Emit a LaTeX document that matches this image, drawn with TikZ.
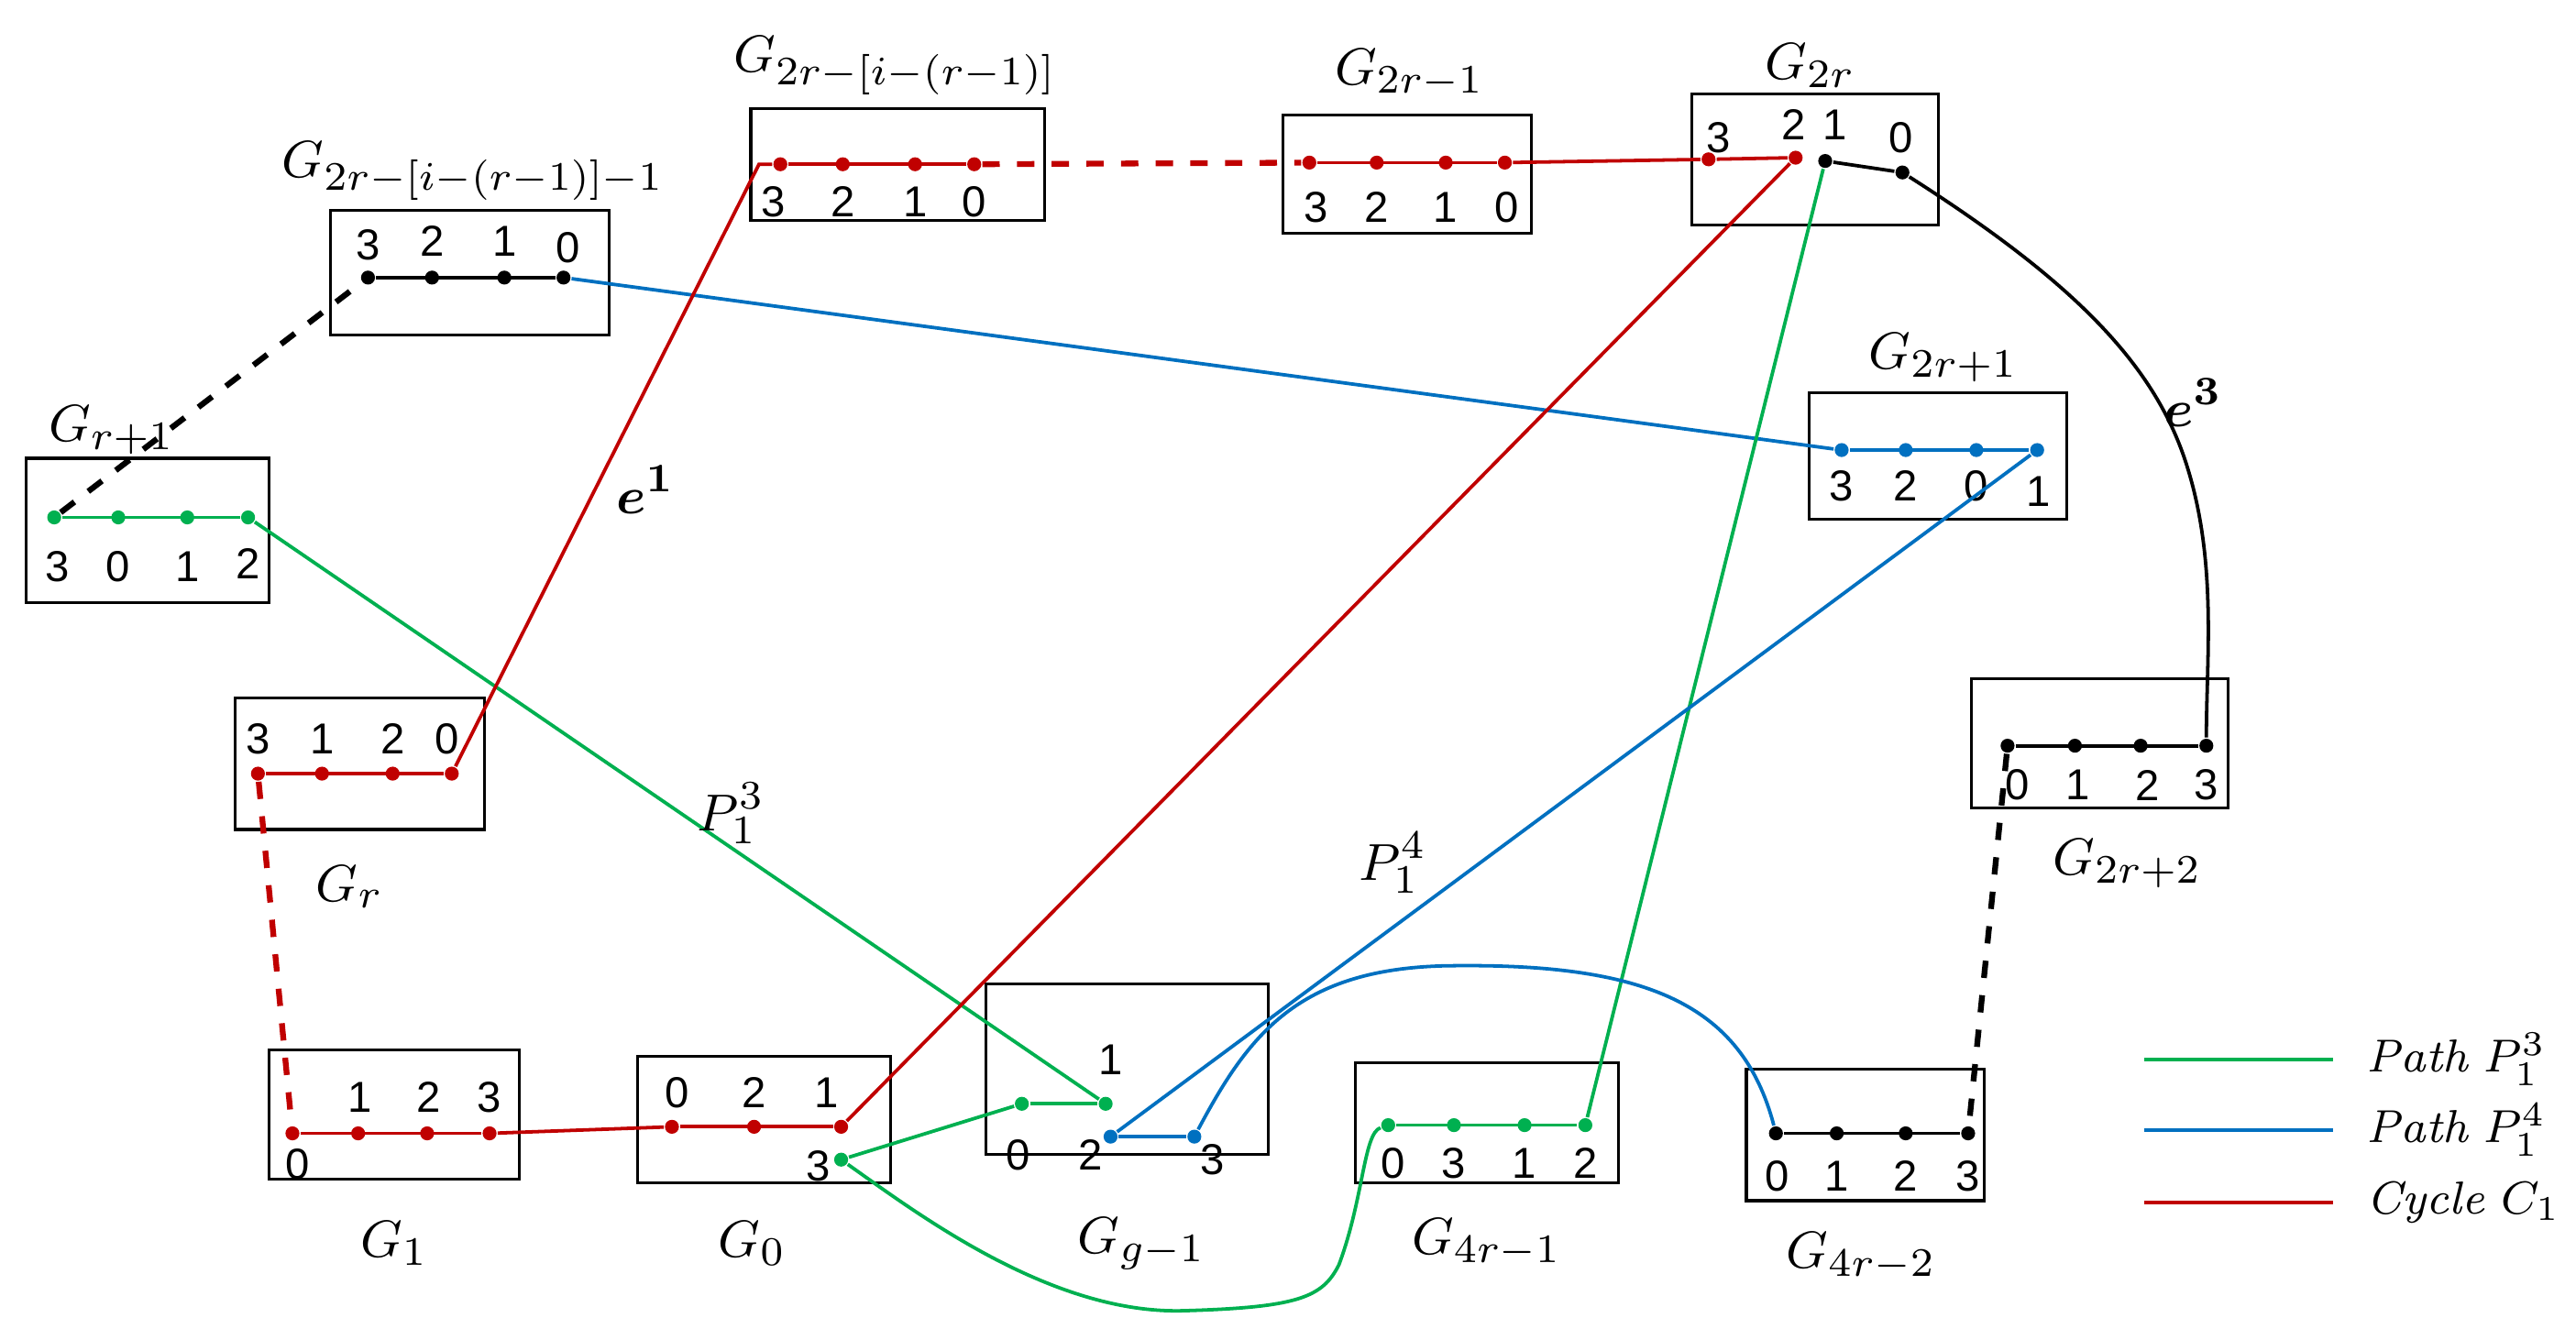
\documentclass[tikz,border=0pt]{standalone}
\usepackage{amsmath}
\usepackage{fontspec}
\setsansfont{Liberation Sans}
\begin{document}
\begin{tikzpicture}[x=0.01cm,y=-0.01cm,
 gr/.style={draw,line width=0.5pt,fill=none},
 dg/.style={circle,fill=#1,inner sep=0pt,minimum size=0.085cm},
 num/.style={font=\sffamily\fontsize{7.5}{8}\selectfont},
 ttl/.style={font=\fontsize{9.5}{11}\selectfont},
 ln/.style={line width=0.6pt}]
\definecolor{cg}{RGB}{0,176,80}\definecolor{cb}{RGB}{0,112,192}\definecolor{cr}{RGB}{192,0,0}
\useasboundingbox (0,0) rectangle (1568,809);
% boxes
\draw[gr] (201,128) rectangle (371,204);
\draw[gr] (457,66) rectangle (636,134);
\draw[gr] (781,70) rectangle (932,142);
\draw[gr] (1030,57) rectangle (1180,137);
\draw[gr] (1101,239) rectangle (1258,316);
\draw[gr] (16,279) rectangle (164,367);
\draw[gr] (143,425) rectangle (295,505);
\draw[gr] (1200,413) rectangle (1356,492);
\draw[gr] (164,639) rectangle (316,718);
\draw[gr] (388,643) rectangle (542,720);
\draw[gr] (600,599) rectangle (772,703);
\draw[gr] (825,647) rectangle (985,720);
\draw[gr] (1063,651) rectangle (1208,731);
% titles
\node[ttl] (tA) at (288,104) {$G_{2r-[i-(r-1)]-1}$};
\node[ttl] (tB) at (545,40) {$G_{2r-[i-(r-1)]}$};
\node[ttl] (tC) at (858,45) {$G_{2r-1}$};
\node[ttl] (tD) at (1102,40) {$G_{2r}$};
\node[ttl] (tE) at (1183,218) {$G_{2r+1}$};
\node[ttl] (tF) at (68,262) {$G_{r+1}$};
\node[ttl] (tG) at (213,540) {$G_{r}$};
\node[ttl] (tH) at (1295,526) {$G_{2r+2}$};
\node[ttl] (tI) at (240,757) {$G_{1}$};
\node[ttl] (tJ) at (458,757) {$G_{0}$};
\node[ttl] (tK) at (695,757) {$G_{g-1}$};
\node[ttl] (tL) at (905,757) {$G_{4r-1}$};
\node[ttl] (tM) at (1133,765) {$G_{4r-2}$};
% dots
\foreach \n/\x/\y/\c in {a3/224/169/black,a2/263/169/black,a1/307/169/black,a0/343/169/black,
 b3/475/100/cr,b2/513/100/cr,b1/557/100/cr,b0/593/100/cr,
 c3/797/99/cr,c2/838/99/cr,c1/880/99/cr,c0/916/99/cr,
 d3/1040/97/cr,d2/1093/96/cr,d1/1111/98/black,d0/1158/105/black,
 e3/1121/274/cb,e2/1160/274/cb,e0/1203/274/cb,e1/1240/274/cb,
 f3/33/315/cg,f0/72/315/cg,f1/114/315/cg,f2/151/315/cg,
 g3/157/471/cr,g1/196/471/cr,g2/239/471/cr,g0/275/471/cr,
 h0/1222/454/black,h1/1263/454/black,h2/1303/454/black,h3/1343/454/black,
 i0/178/690/cr,i1/218/690/cr,i2/260/690/cr,i3/298/690/cr,
 j0/409/686/cr,j2/459/686/cr,j1/512/686/cr,j3/512/706/cg,
 k0/622/672/cg,k1/673/672/cg,k2/676/692/cb,k3/727/692/cb,
 l0/845/685/cg,l3/885/685/cg,l1/928/685/cg,l2/965/685/cg,
 m0/1081/690/black,m1/1118/690/black,m2/1160/690/black,m3/1198/690/black}
 \node[dg=\c] (\n) at (\x,\y) {};
% numbers
\foreach \t/\x/\y in {3/224/149,2/263/147,1/307/147,0/346/151,
 3/471/123,2/513/123,1/557/123,0/593/123,
 3/801/126,2/838/126,1/880/126,0/917/126,
 3/1046/84,2/1092/76,1/1117/76,0/1157/84,
 3/1121/296,2/1160/296,0/1203/296,1/1241/299,
 3/35/345,0/72/345,1/114/345,2/151/343,
 3/157/450,1/196/450,2/239/450,0/272/450,
 0/1228/478,1/1265/478,2/1307/478,3/1343/478,
 0/181/709,1/219/668,2/261/668,3/298/668,
 0/412/665,2/459/665,1/503/665,3/498/710,
 1/676/645,0/620/703,2/664/703,3/738/706,
 0/848/708,3/885/708,1/928/708,2/965/708,
 0/1082/716,1/1118/716,2/1160/716,3/1198/716}
 \node[num] at (\x,\y) {\t};
% internal lines
\draw[ln] (a3)--(a0); \draw[ln,cr] (b3)--(b0); \draw[ln,cr] (c3)--(c0);
\draw[ln,cr] (d3)--(d2); \draw[ln] (d1)--(d0); \draw[ln,cb] (e3)--(e1);
\draw[ln,cg] (f3)--(f2); \draw[ln,cr] (g3)--(g0); \draw[ln] (h0)--(h3);
\draw[ln,cr] (i0)--(i3); \draw[ln,cr] (j0)--(j1); \draw[ln,cg] (k0)--(k1);
\draw[ln,cb] (k2)--(k3); \draw[ln,cg] (l0)--(l2); \draw[ln] (m0)--(m3);
% connectors
\draw[ln,dashed,line width=1pt] (f3)--(a3);
\draw[ln,cb] (a0)--(e3);
\draw[ln,cg] (f2)--(k1);
\draw[ln,cr] (g0)--(462,100)--(b3);
\draw[ln,cr,dashed,line width=1pt] (g3)--(i0);
\draw[ln,cr] (i3)--(j0);
\draw[ln,cr] (j1)--(d2);
\draw[ln,cr,dashed,line width=1pt] (b0)--(c3);
\draw[ln,cr] (c0)--(d3);
\draw[ln,cg] (l2)--(d1);
\draw[ln] (d0) .. controls (1260,170) and (1310,220) .. (1330,280) .. controls (1350,340) and (1343,400) .. (h3);
\draw[ln,cb] (k2)--(e1);
\draw[ln,cb] (k3) .. controls (760,630) and (790,590) .. (880,588) .. controls (1000,586) and (1060,610) .. (m0);
\draw[ln,cg] (j3)--(k0);
\draw[ln,cg] (j3) .. controls (560,740) and (640,800) .. (720,798) .. controls (790,796) and (805,790) .. (815,770) .. controls (830,730) and (830,690) .. (l0);
\draw[ln,dashed,line width=1pt] (h0)--(m3);
% labels
\node[ttl] (le1) at (393,298) {$\boldsymbol{e^1}$};
\node[ttl] (le3) at (1335,245) {$\boldsymbol{e^3}$};
\node[ttl] (lp3) at (445,495) {$P_1^3$};
\node[ttl] (lp4) at (848,525) {$P_1^4$};
% legend
\coordinate (q1) at (1305,645); \coordinate (q1e) at (1420,645);
\coordinate (q2) at (1305,688); \coordinate (q2e) at (1420,688);
\coordinate (q3) at (1305,732); \coordinate (q3e) at (1420,732);
\draw[ln,cg] (q1)--(q1e); \draw[ln,cb] (q2)--(q2e); \draw[ln,cr] (q3)--(q3e);
\node[font=\fontsize{8}{10}\selectfont,anchor=west,inner sep=0pt] (lg1) at (1440,645) {$\mathit{Path}\ P_1^3$};
\node[font=\fontsize{8}{10}\selectfont,anchor=west,inner sep=0pt] (lg2) at (1440,688) {$\mathit{Path}\ P_1^4$};
\node[font=\fontsize{8}{10}\selectfont,anchor=west,inner sep=0pt] (lg3) at (1440,732) {$\mathit{Cycle}\ C_1$};
\end{tikzpicture}
\end{document}
